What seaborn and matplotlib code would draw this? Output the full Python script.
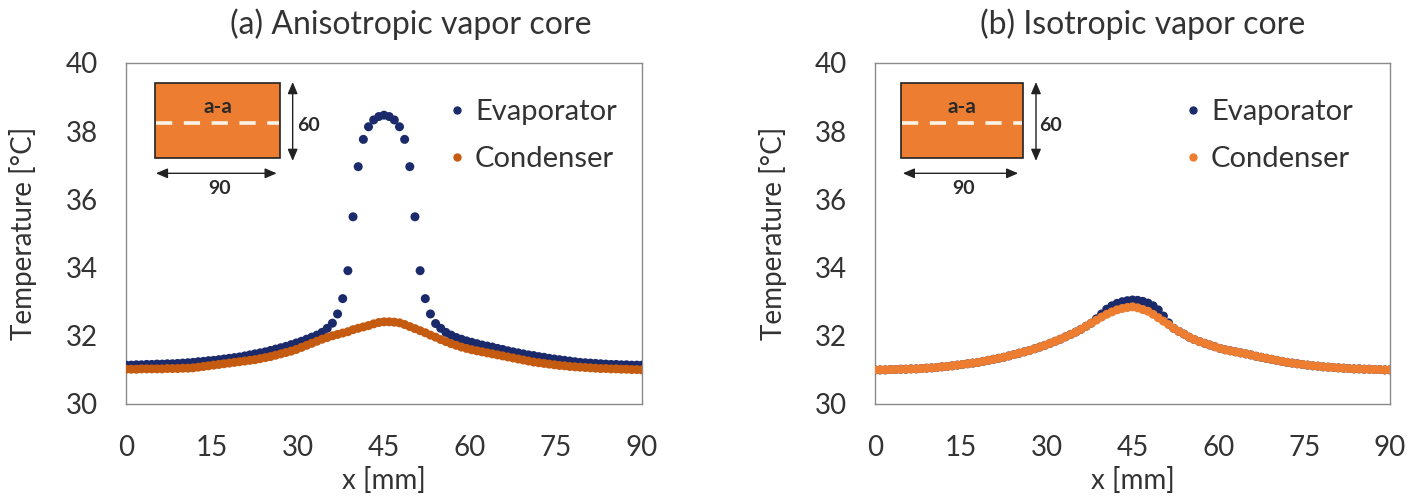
import numpy as np
import pandas as pd
import matplotlib
matplotlib.use("Agg")
import matplotlib.pyplot as plt
import seaborn as sns
from matplotlib.patches import Rectangle
from matplotlib.lines import Line2D

# ---------------- data ----------------
x_mm = np.round(np.linspace(0, 90, 101), 2)

evap_a = [31.14, 31.14, 31.15, 31.15, 31.16, 31.16, 31.17, 31.17, 31.18, 31.18,
          31.19, 31.20, 31.21, 31.22, 31.24, 31.25, 31.27, 31.28, 31.30, 31.32,
          31.34, 31.36, 31.38, 31.41, 31.44, 31.47, 31.50, 31.53, 31.57, 31.61,
          31.65, 31.69, 31.74, 31.79, 31.84, 31.90, 31.96, 32.02, 32.10, 32.22,
          32.37, 32.64, 33.09, 33.91, 35.49, 36.96, 37.76, 38.13, 38.33, 38.43,
          38.47,
          38.43, 38.33, 38.13, 37.76, 36.96, 35.49, 33.91, 33.09, 32.64, 32.36,
          32.22, 32.10, 32.02, 31.95, 31.90, 31.85, 31.81, 31.77, 31.73, 31.70,
          31.67, 31.63, 31.60, 31.56, 31.53, 31.50, 31.47, 31.44, 31.42, 31.39,
          31.37, 31.34, 31.32, 31.30, 31.28, 31.26, 31.24, 31.22, 31.21, 31.20,
          31.19, 31.18, 31.17, 31.16, 31.16, 31.15, 31.15, 31.14, 31.14, 31.14]

cond_a = [31.02, 31.02, 31.02, 31.03, 31.03, 31.03, 31.03, 31.03, 31.04, 31.04,
          31.04, 31.05, 31.05, 31.06, 31.08, 31.10, 31.12, 31.14, 31.16, 31.18,
          31.20, 31.22, 31.24, 31.26, 31.28, 31.30, 31.33, 31.36, 31.39, 31.43,
          31.47, 31.51, 31.55, 31.60, 31.66, 31.72, 31.78, 31.84, 31.90, 31.95,
          32.00, 32.04, 32.08, 32.12, 32.18, 32.22, 32.26, 32.30, 32.35, 32.39,
          32.41,
          32.41, 32.40, 32.38, 32.33, 32.27, 32.21, 32.15, 32.09, 32.02, 31.96,
          31.89, 31.83, 31.77, 31.72, 31.67, 31.63, 31.59, 31.56, 31.53, 31.50,
          31.47, 31.44, 31.41, 31.38, 31.35, 31.32, 31.29, 31.26, 31.23, 31.21,
          31.19, 31.17, 31.15, 31.13, 31.12, 31.10, 31.09, 31.08, 31.07, 31.06,
          31.05, 31.04, 31.04, 31.03, 31.03, 31.02, 31.02, 31.01, 31.01, 31.00]

evap_b = [31.00, 31.00, 31.00, 31.01, 31.01, 31.02, 31.02, 31.03, 31.03, 31.04,
          31.05, 31.06, 31.07, 31.09, 31.10, 31.12, 31.14, 31.16, 31.18, 31.20,
          31.22, 31.25, 31.28, 31.31, 31.34, 31.37, 31.41, 31.45, 31.49, 31.53,
          31.57, 31.62, 31.67, 31.72, 31.78, 31.84, 31.90, 31.97, 32.04, 32.11,
          32.19, 32.28, 32.37, 32.50, 32.64, 32.78, 32.88, 32.95, 33.00, 33.03,
          33.05,
          33.04, 33.01, 32.96, 32.88, 32.76, 32.58, 32.38, 32.22, 32.13, 32.05,
          31.96, 31.89, 31.83, 31.78, 31.73, 31.68, 31.63, 31.59, 31.56, 31.53,
          31.50, 31.47, 31.44, 31.40, 31.37, 31.34, 31.31, 31.28, 31.25, 31.22,
          31.20, 31.18, 31.16, 31.14, 31.12, 31.11, 31.09, 31.08, 31.07, 31.06,
          31.05, 31.04, 31.03, 31.03, 31.02, 31.02, 31.01, 31.01, 31.00, 31.00]

cond_b = [31.00, 31.00, 31.00, 31.01, 31.01, 31.02, 31.02, 31.03, 31.03, 31.04,
          31.05, 31.06, 31.07, 31.09, 31.10, 31.12, 31.14, 31.16, 31.18, 31.20,
          31.22, 31.25, 31.28, 31.31, 31.34, 31.37, 31.41, 31.45, 31.49, 31.53,
          31.57, 31.62, 31.67, 31.72, 31.78, 31.84, 31.90, 31.97, 32.04, 32.11,
          32.19, 32.28, 32.37, 32.46, 32.55, 32.63, 32.70, 32.76, 32.80, 32.83,
          32.85,
          32.82, 32.77, 32.72, 32.63, 32.53, 32.43, 32.33, 32.22, 32.13, 32.05,
          31.96, 31.89, 31.83, 31.78, 31.73, 31.68, 31.63, 31.59, 31.56, 31.53,
          31.50, 31.47, 31.44, 31.40, 31.37, 31.34, 31.31, 31.28, 31.25, 31.22,
          31.20, 31.18, 31.16, 31.14, 31.12, 31.11, 31.09, 31.08, 31.07, 31.06,
          31.05, 31.04, 31.03, 31.03, 31.02, 31.02, 31.01, 31.01, 31.00, 31.00]

titles = ["(a) Anisotropic vapor core", "(b) Isotropic vapor core"]
series_labels = ["Evaporator", "Condenser"]
x_ticks = [0, 15, 30, 45, 60, 75, 90]
y_ticks = [30, 32, 34, 36, 38, 40]
x_label = "x [mm]"
y_label = "Temperature [°C]"
inset_labels = ["a-a", "60", "90"]

# ---------------- style ----------------
NAVY = "#1b2a6b"
COND_A = "#c55a11"
COND_B = "#ed7d31"
RECT = "#ed7d31"
TXT = "#333333"
SPINE = "#8a8a8a"

sns.set_theme(style="white")
plt.rcParams['font.family'] = ['Lato', 'DejaVu Sans']

W, H = 1418, 497
fig = plt.figure(figsize=(W / 100, H / 100), dpi=100)
ax_a = fig.add_axes([126 / W, 1 - 404 / H, 516 / W, 341 / H])
ax_b = fig.add_axes([875 / W, 1 - 404 / H, 515 / W, 341 / H])


def draw_panel(ax, evap, cond, cond_color, title, title_x, geo):
    df = pd.DataFrame({"x": x_mm, series_labels[0]: evap, series_labels[1]: cond})
    df = df.melt(id_vars="x", var_name="series", value_name="T")
    sns.scatterplot(data=df, x="x", y="T", hue="series",
                    palette={series_labels[0]: NAVY, series_labels[1]: cond_color},
                    s=42, linewidth=0, ax=ax, legend=False, zorder=3)
    ax.set_xlim(0, 90)
    ax.set_ylim(30, 40)
    ax.set_xticks(x_ticks)
    ax.set_yticks(y_ticks)
    ax.tick_params(axis="both", length=0, labelsize=20, colors=TXT)
    ax.tick_params(axis="y", pad=20)
    ax.tick_params(axis="x", pad=22)
    for sp in ax.spines.values():
        sp.set_visible(True)
        sp.set_color(SPINE)
        sp.set_linewidth(1.0)
    ax.set_xlabel(x_label, fontsize=20, color=TXT)
    ax.set_ylabel(y_label, fontsize=20, color=TXT)
    ax.xaxis.set_label_coords(0.5, -0.185)
    ax.yaxis.set_label_coords(geo["ylab"], 0.5)
    ax.text(title_x, 1.085, title, transform=ax.transAxes, ha="center",
            va="baseline", fontsize=23, color=TXT)

    # inset schematic
    tr = ax.transAxes
    x0, x1, y0, y1 = geo["rect"]
    ax.add_patch(Rectangle((x0, y0), x1 - x0, y1 - y0, transform=tr,
                           facecolor=RECT, edgecolor="#222222", lw=1.2, zorder=4))
    ax.plot([x0 + 0.002, x1 - 0.002], [0.823, 0.823], transform=tr, color="#fbf3e6",
            lw=2.6, dashes=(4.5, 3.2), zorder=5, solid_capstyle="butt")
    ax.text((x0 + x1) / 2, 0.872, inset_labels[0], transform=tr, ha="center",
            va="center", fontsize=15, fontweight="bold", color="#2a2a2a", zorder=6)
    av = geo["varrow"]
    ax.annotate("", xy=(av, 0.713), xytext=(av, 0.944), xycoords=tr, textcoords=tr,
                arrowprops=dict(arrowstyle="<|-|>,head_length=0.7,head_width=0.3",
                                color="#222222", lw=1.0, shrinkA=0, shrinkB=0,
                                mutation_scale=10), zorder=6)
    ax.text(geo["t60"], 0.818, inset_labels[1], transform=tr, ha="center",
            va="center", fontsize=14, fontweight="bold", color="#2a2a2a")
    h0, h1 = geo["harrow"]
    ax.annotate("", xy=(h0, 0.6765), xytext=(h1, 0.6765), xycoords=tr, textcoords=tr,
                arrowprops=dict(arrowstyle="<|-|>,head_length=0.7,head_width=0.3",
                                color="#222222", lw=1.0, shrinkA=0, shrinkB=0,
                                mutation_scale=10), zorder=6)
    ax.text(geo["t90"], 0.633, inset_labels[2], transform=tr, ha="center",
            va="center", fontsize=14, fontweight="bold", color="#2a2a2a")

    handles = [Line2D([], [], ls="", marker="o", markersize=6, markeredgewidth=0,
                      color=NAVY),
               Line2D([], [], ls="", marker="o", markersize=6, markeredgewidth=0,
                      color=cond_color)]
    leg = ax.legend(handles, series_labels, loc="upper left",
                    bbox_to_anchor=(geo["leg"], 0.893), frameon=False,
                    fontsize=21, handlelength=0.5, handletextpad=0.37,
                    labelspacing=0.71, borderpad=0, borderaxespad=0)
    for t in leg.get_texts():
        t.set_color(TXT)


draw_panel(ax_a, evap_a, cond_a, COND_A, titles[0], 0.552,
           dict(rect=(0.0562, 0.2984, 0.7205, 0.9422), varrow=0.323, t60=0.353,
                harrow=(0.058, 0.292), t90=0.182, leg=0.627, ylab=-0.172))
draw_panel(ax_b, evap_b, cond_b, COND_B, titles[1], 0.52,
           dict(rect=(0.0505, 0.287, 0.7205, 0.9422), varrow=0.3126, t60=0.34,
                harrow=(0.054, 0.278), t90=0.171, leg=0.603, ylab=-0.171))

fig.savefig("out.png", dpi=100, facecolor="white")
